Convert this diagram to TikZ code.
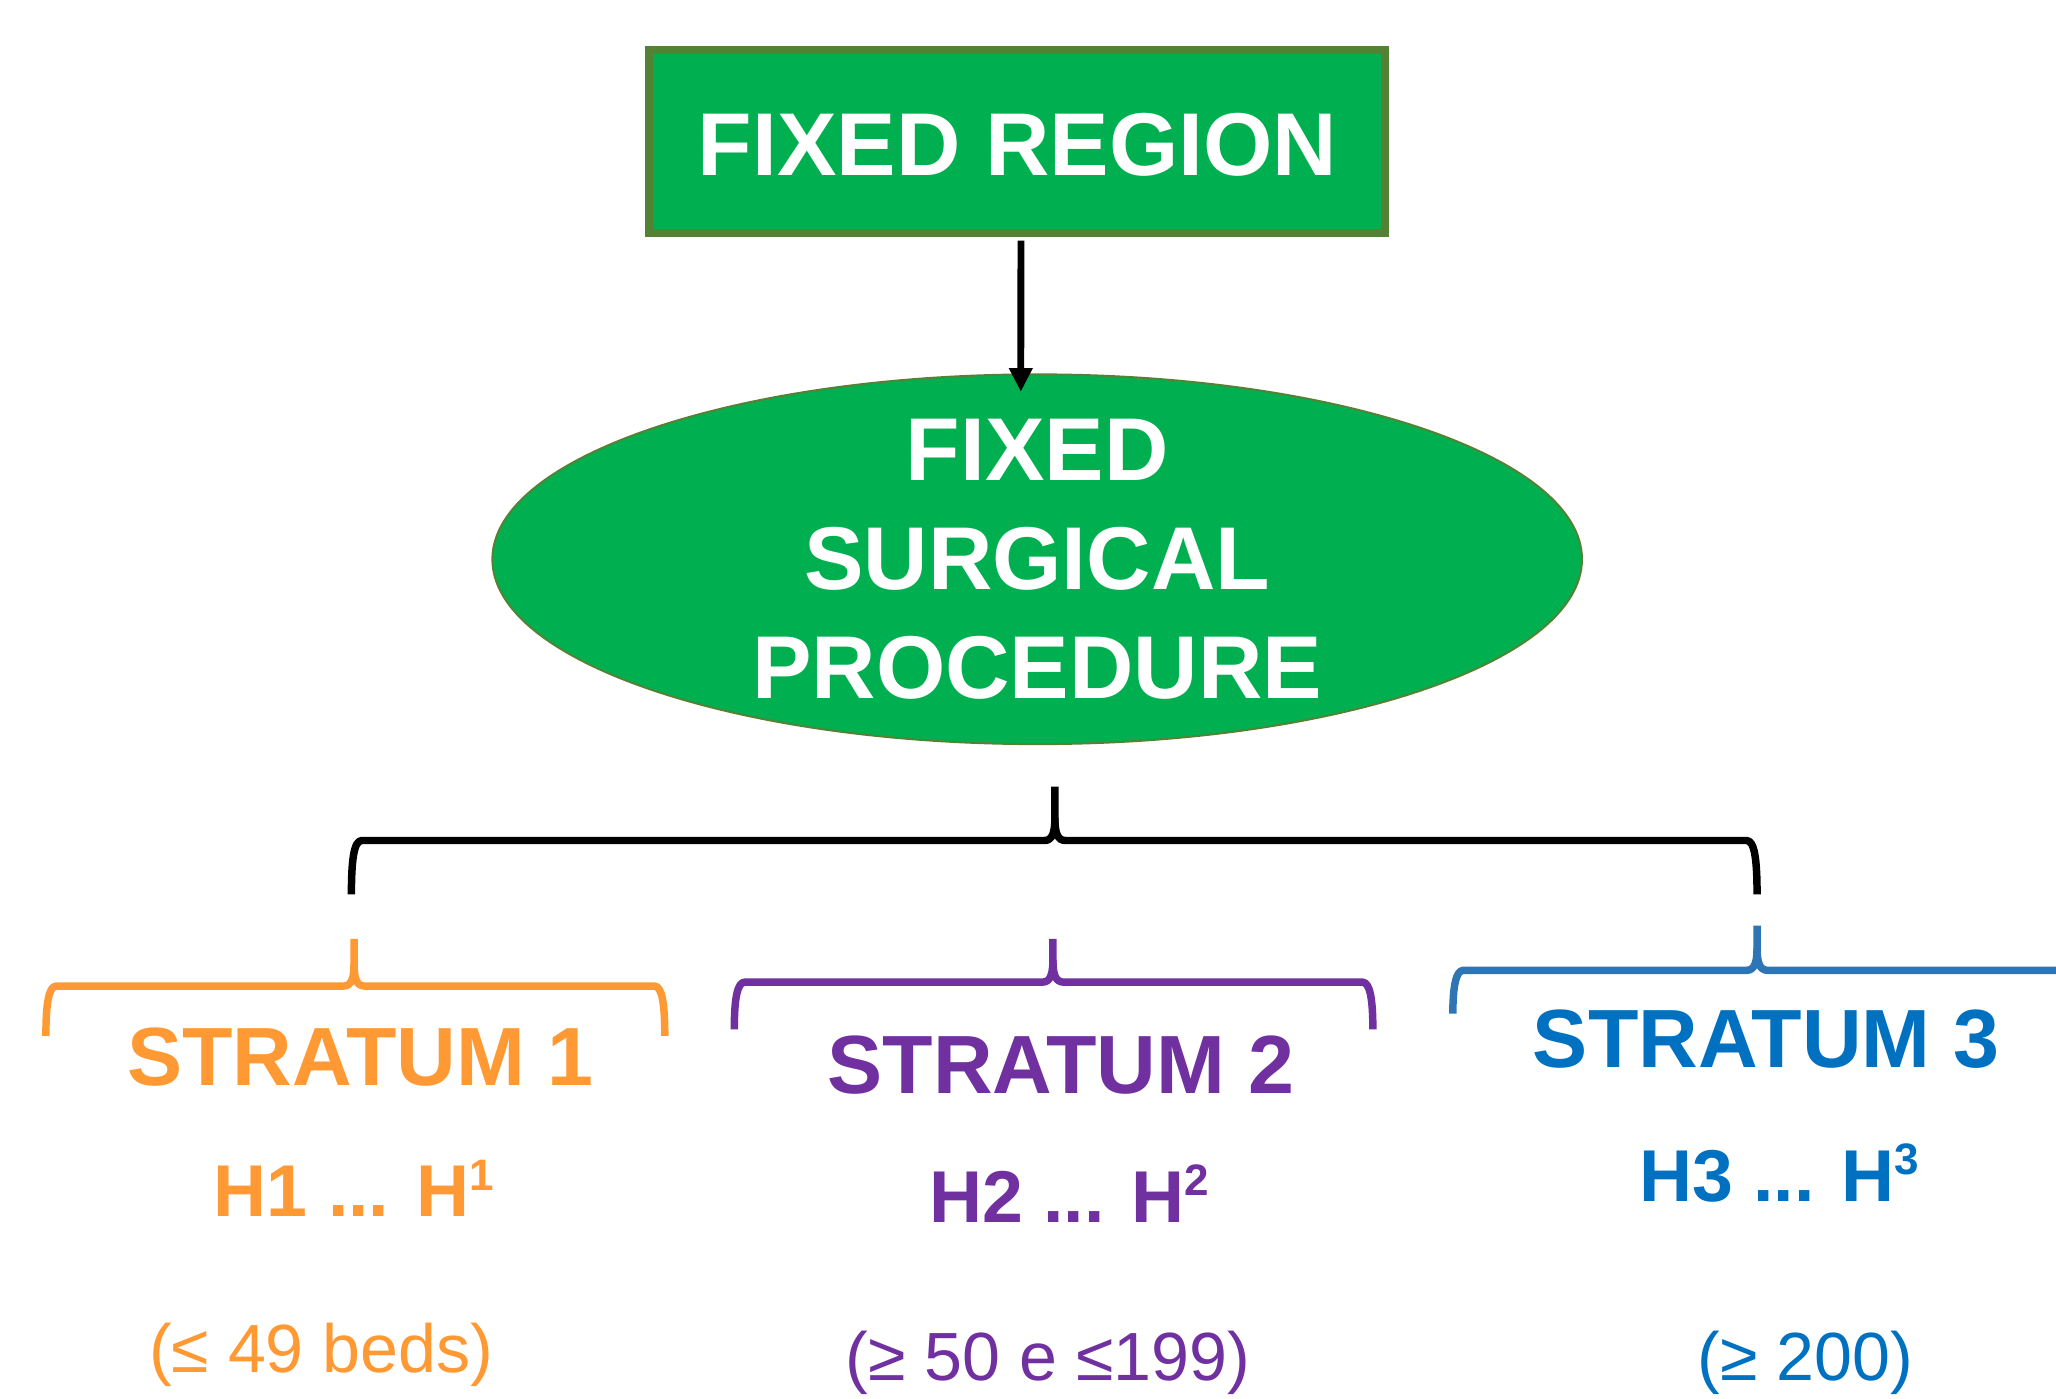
\documentclass[tikz,border=0pt]{standalone}
\usepackage{fontspec}
\setmainfont{Liberation Sans}
\usetikzlibrary{arrows.meta,shapes.geometric,calc}
\definecolor{fgreen}{HTML}{00B050}
\definecolor{fborder}{HTML}{548235}
\definecolor{sorange}{HTML}{FF9933}
\definecolor{spurple}{HTML}{7030A0}
\definecolor{sblue}{HTML}{0070C0}
\definecolor{sbluebr}{HTML}{2E75B6}
\newcommand\sups[1]{\raisebox{0.36em}{\scalebox{0.6}{#1}}}
% color, xl, xm, xr, ytip, yh, yend
\newcommand\bracepath[7]{%
  \draw[bracestyle,#1] (#2,#7) .. controls (#2,#6+14) and (#2+2,#6) .. (#2+8,#6)
     -- (#3-8,#6) .. controls (#3-2,#6) and (#3,#6-6) .. (#3,#6-17) -- (#3,#5);
  \draw[bracestyle,#1] (#3,#6-17) .. controls (#3,#6-6) and (#3+2,#6) .. (#3+8,#6)
     -- (#4-8,#6) .. controls (#4-2,#6) and (#4,#6+14) .. (#4,#7);
}
\tikzset{
  bracestyle/.style={line width=5.7pt, line join=round},
  boxtext/.style={text=white, font=\bfseries\fontsize{68}{83.5}\selectfont, inner sep=0pt},
  strat/.style={font=\bfseries\fontsize{63}{70}\selectfont, inner sep=0pt, anchor=base},
  hline/.style={font=\bfseries\fontsize{56}{62}\selectfont, inner sep=0pt, anchor=base},
  beds/.style={font=\fontsize{52}{58}\selectfont, inner sep=0pt, anchor=base},
  arr/.style={line width=5.2pt, -{Triangle[length=18pt,width=17pt]}},
}
\begin{document}
\begin{tikzpicture}[x=1pt,y=-1pt]
\useasboundingbox (0,0) rectangle (1568,1066.2);
% top box
\node[draw=fborder, line width=6pt, fill=fgreen, minimum width=561.8pt, minimum height=139.5pt,
      inner sep=0pt] (region) at (775.6,107.75) {};
\node[boxtext, anchor=base] (regiontext) at (776,134) {FIXED REGION};
% ellipse
\node[ellipse, draw=fborder, line width=1.5pt, fill=fgreen, minimum width=831pt,
      minimum height=282pt, inner sep=0pt] (ell) at (791,426.5) {};
\node[boxtext, align=center] (elltext) at (ell.center) {FIXED\\SURGICAL\\PROCEDURE};
% arrow
\draw[arr] ([xshift=3pt,yshift=-3pt]region.south) -- ([xshift=-12.5pt,yshift=-14pt]ell.north);
% braces
\bracepath{black}{268}{804.5}{1340}{600}{641}{682}
\bracepath{sorange}{35}{270}{507}{716}{752}{790}
\bracepath{spurple}{560}{803}{1047}{716}{749}{785}
\bracepath{sbluebr}{1108}{1340}{1610}{706}{740}{773}
% strata
\node[strat, text=sorange] (s1) at (275,828) {STRATUM 1};
\node[strat, text=spurple] (s2) at (809,834) {STRATUM 2};
\node[strat, text=sblue] (s3) at (1347,814) {STRATUM 3};
\node[hline, text=sorange] (h1) at (270,928) {H1 ... H\sups{1}};
\node[hline, text=spurple] (h2) at (815.5,932) {H2 ... H\sups{2}};
\node[hline, text=sblue] (h3) at (1357,916) {H3 ... H\sups{3}};
\node[beds, text=sorange] (b1) at (245,1047) {(≤ 49 beds)};
\node[beds, text=spurple] (b2) at (799,1053) {(≥ 50 e ≤199)};
\node[beds, text=sblue] (b3) at (1377,1053) {(≥ 200)};
\end{tikzpicture}
\end{document}
